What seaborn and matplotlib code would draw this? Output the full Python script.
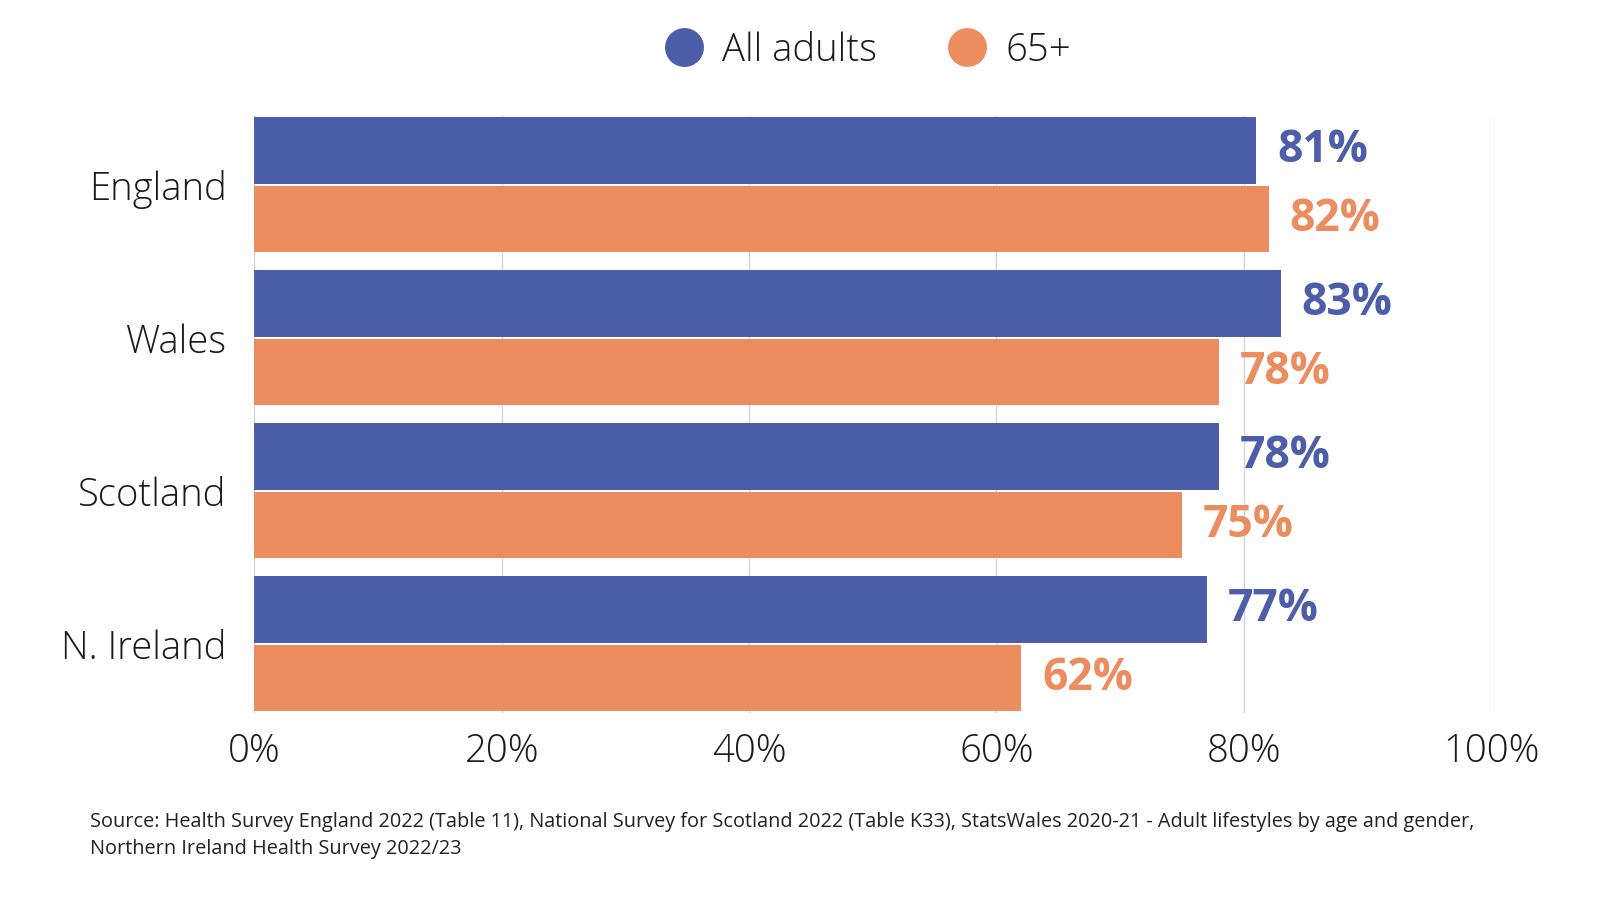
import matplotlib
matplotlib.use("Agg")
import matplotlib.pyplot as plt
import numpy as np
import pandas as pd
import seaborn as sns
from matplotlib.lines import Line2D
from matplotlib.ticker import PercentFormatter

countries = ["England", "Wales", "Scotland", "N. Ireland"]
series = ["All adults", "65+"]
all_adults = [81, 83, 78, 77]
over_65 = [82, 78, 75, 62]
colors = ["#4C5EAA", "#EB8D5E"]
source = ("Source: Health Survey England 2022 (Table 11), National Survey for Scotland 2022 (Table K33), "
          "StatsWales 2020-21 - Adult lifestyles by age and gender,\nNorthern Ireland Health Survey 2022/23")

df = pd.DataFrame({
    "country": countries * 2,
    "group": [series[0]] * len(countries) + [series[1]] * len(countries),
    "value": all_adults + over_65,
})

sns.set_theme(style="white")
plt.rcParams["font.family"] = ["Open Sans", "DejaVu Sans"]

fig = plt.figure(figsize=(16, 9), dpi=100)
ax = fig.add_axes([0.159, 0.208, 0.773, 0.663])

sns.barplot(data=df, y="country", x="value", hue="group", orient="h",
            palette=colors, width=0.9, gap=0.04, saturation=1,
            linewidth=0, legend=False, ax=ax)

for cont, col in zip(ax.containers, colors):
    ax.bar_label(cont, labels=[f"{v:.0f}%" for v in cont.datavalues],
                 padding=15, fontsize=32, fontweight="bold", color=col)

ax.set_xlim(0, 100)
ax.set_ylim(3.45, -0.45)
ax.set_xticks(np.arange(0, 101, 20))
ax.xaxis.set_major_formatter(PercentFormatter(decimals=0))
ax.grid(axis="x", color="#d6d6d6", linewidth=1)
ax.set_axisbelow(True)
for s in ax.spines.values():
    s.set_visible(False)
ax.tick_params(axis="x", length=0, pad=14, labelsize=27.5)
ax.tick_params(axis="y", length=0, pad=20, labelsize=27.5)
for lab in ax.get_xticklabels() + ax.get_yticklabels():
    lab.set_fontweight("light")
    lab.set_color("#1a1a1a")
ax.set_xlabel("")
ax.set_ylabel("")

handles = [Line2D([], [], marker="o", linestyle="", markersize=28,
                  markerfacecolor=c, markeredgewidth=0) for c in colors]
leg = fig.legend(handles, series, loc="center", bbox_to_anchor=(0.54, 0.944),
                 ncol=2, frameon=False, fontsize=27.5, columnspacing=1.66,
                 handlelength=1.4, handletextpad=0.3)
for t in leg.get_texts():
    t.set_fontweight("light")
    t.set_color("#1a1a1a")

fig.text(0.056, 0.098, source, fontsize=14.3, va="top", ha="left", color="#222222",
         linespacing=1.45)

fig.savefig("out.png", dpi=100)
